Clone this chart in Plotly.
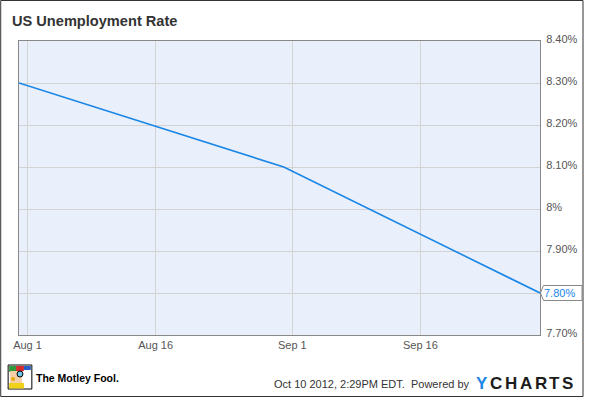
import plotly.graph_objects as go

dates = ["2012-07-31", "2012-08-31", "2012-09-30"]
rates = [8.3, 8.1, 7.8]
x_tick_vals = ["2012-08-01", "2012-08-16", "2012-09-01", "2012-09-16"]
x_tick_text = ["Aug 1", "Aug 16", "Sep 1", "Sep 16"]
y_tick_vals = [7.7, 7.8, 7.9, 8.0, 8.1, 8.2, 8.3, 8.4]
y_tick_text = ["7.70%", "7.80%", "7.90%", "8%", "8.10%", "8.20%", "8.30%", "8.40%"]
last_label = "7.80%"

W, H = 590, 397
L, R, T, B = 19, 546, 41, 335
PW, PH = R - L, B - T


def px(x):
    return (x - L) / PW


def py(y):
    return (B - y) / PH


FONT = "Liberation Sans, Arial, sans-serif"
BLUE = "#1a86e6"

# the tick label at the last value is hidden behind the value callout
shown_y_text = ["" if abs(v - rates[-1]) < 1e-9 else t
                for v, t in zip(y_tick_vals, y_tick_text)]

fig = go.Figure()
fig.add_trace(go.Scatter(x=dates, y=rates, mode="lines",
                         line=dict(color=BLUE, width=1.6), hoverinfo="skip"))

fig.update_layout(
    width=W, height=H,
    margin=dict(l=L, r=W - R, t=T, b=H - B),
    paper_bgcolor="white", plot_bgcolor="#eaf0fb",
    showlegend=False,
    font=dict(family=FONT, size=11, color="#555555"),
    xaxis=dict(range=["2012-07-31", "2012-09-30"], tickvals=x_tick_vals,
               ticktext=x_tick_text, showgrid=True, gridcolor="#d3d3d3",
               gridwidth=1, zeroline=False, showline=True, linecolor="#888888",
               mirror=True, ticks="", ticklen=0),
    yaxis=dict(range=[7.7, 8.4], tickvals=y_tick_vals, ticktext=shown_y_text,
               side="right", showgrid=True, gridcolor="#d3d3d3", gridwidth=1,
               zeroline=False, showline=True, linecolor="#888888", mirror=True,
               ticks="", ticklabelshift=-2, ticklabelstandoff=3),
)

# callout position for last value (pixel y of the last value)
cy = B - (rates[-1] - 7.7) / 0.7 * PH

annotations = [
    dict(text="<b>US Unemployment Rate</b>", xref="paper", yref="paper",
         x=px(10), y=py(21), xanchor="left", yanchor="middle", showarrow=False,
         font=dict(family=FONT, size=14.6, color="#333333")),
    dict(text=last_label, xref="paper", yref="y", x=px(548), y=rates[-1],
         xanchor="left", yanchor="middle", showarrow=False,
         font=dict(family=FONT, size=11, color=BLUE)),
    dict(text="Oct 10 2012, 2:29PM EDT.  Powered by", xref="paper", yref="paper",
         x=px(477), y=py(384), xanchor="right", yanchor="middle", showarrow=False,
         font=dict(family=FONT, size=11, color="#333333")),
    dict(text="<b>The Motley Fool.</b>", xref="paper", yref="paper",
         x=px(34), y=py(378), xanchor="left", yanchor="middle", showarrow=False,
         font=dict(family=FONT, size=10.5, color="#000000")),
]

ychart_letters = ["Y", "C", "H", "A", "R", "T", "S"]
ychart_centers = [487, 501.5, 517, 532, 547, 560.5, 573.5]
for ch, cx in zip(ychart_letters, ychart_centers):
    annotations.append(dict(
        text="<b>%s</b>" % ch, xref="paper", yref="paper", x=px(cx), y=py(383),
        xanchor="center", yanchor="middle", showarrow=False,
        font=dict(family=FONT, size=17, color=BLUE if ch == "Y" else "#1c1c1c")))

fig.update_layout(annotations=annotations)


def path(points):
    return "M " + " L ".join("%.5f,%.5f" % (px(a), py(b)) for a, b in points) + " Z"


shapes = [
    # outer border
    dict(type="rect", xref="paper", yref="paper", x0=px(0.5), x1=px(589.5),
         y0=py(0.5), y1=py(396.5), line=dict(color="#333333", width=1),
         layer="above"),
    # callout box
    dict(type="path", xref="paper", yref="paper",
         path=path([(546.5, cy), (549.5, cy - 7.5), (588.5, cy - 7.5),
                    (588.5, cy + 7.5), (549.5, cy + 7.5)]),
         line=dict(color="#888888", width=1), fillcolor="white", layer="above"),
    # logo box
    dict(type="rect", xref="paper", yref="paper", x0=px(8), x1=px(32),
         y0=py(365), y1=py(389), line=dict(color="#000000", width=1),
         fillcolor="#ffffff"),
    dict(type="rect", xref="paper", yref="paper", x0=px(9), x1=px(16),
         y0=py(366), y1=py(372), line=dict(width=0), fillcolor="#2e9a3c"),
    dict(type="rect", xref="paper", yref="paper", x0=px(16), x1=px(24),
         y0=py(366), y1=py(371), line=dict(width=0), fillcolor="#d62b2b"),
    dict(type="rect", xref="paper", yref="paper", x0=px(24), x1=px(31),
         y0=py(366), y1=py(370), line=dict(width=0), fillcolor="#2a5fc8"),
    dict(type="rect", xref="paper", yref="paper", x0=px(10), x1=px(22),
         y0=py(371), y1=py(384), line=dict(width=0), fillcolor="#f5cfa8"),
    dict(type="circle", xref="paper", yref="paper", x0=px(17), x1=px(23),
         y0=py(371), y1=py(377), line=dict(color="#000", width=1),
         fillcolor="#6cc6e8"),
    dict(type="circle", xref="paper", yref="paper", x0=px(11), x1=px(15),
         y0=py(377), y1=py(381), line=dict(width=0), fillcolor="#e8a800"),
    dict(type="rect", xref="paper", yref="paper", x0=px(9), x1=px(24),
         y0=py(383), y1=py(388.5), line=dict(width=0), fillcolor="#f0d219"),
]
fig.update_layout(shapes=shapes)

fig.write_html("out.html", config={"displayModeBar": False},
               post_script="document.body.style.margin='0';"
                           "document.body.style.overflow='hidden';")
